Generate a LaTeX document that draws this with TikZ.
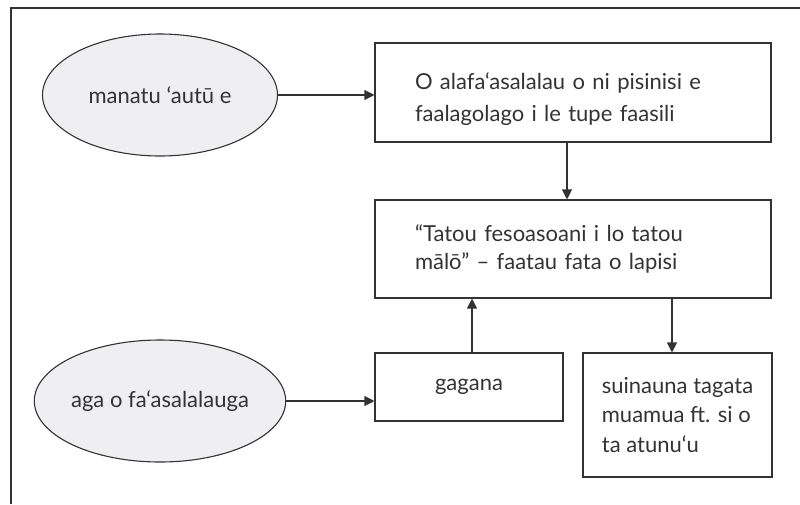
\documentclass[tikz,border=0pt]{standalone}
\usepackage{fontspec}
\setmainfont{Lato}
\usetikzlibrary{shapes.geometric,arrows.meta}
\definecolor{ln}{HTML}{333333}
\definecolor{efill}{HTML}{EFEFF1}
\begin{document}
\begin{tikzpicture}[x=1pt,y=-1pt,
  every node/.style={font=\fontsize{22}{32}\selectfont, text=ln},
  oval/.style={ellipse, draw=ln, line width=1.1pt, fill=efill, minimum width=235pt, minimum height=122pt, inner sep=0pt},
  boxnode/.style={rectangle, draw=ln, line width=1.1pt, inner sep=0pt},
  conn/.style={draw=ln, line width=1.1pt, -{Triangle[length=10pt,width=10pt]}}]
\useasboundingbox (0,0) rectangle (800,504);
\draw[ln, line width=1.2pt] (11,504) -- (11,8) -- (800,8);
\node[oval] (e1) at (160,95) {manatu ‘autū e};
\node[oval] (e2) at (160,401) {aga o fa‘asalalauga};
\node[boxnode, minimum width=396pt, minimum height=99pt, text width=316pt, align=left] (b1) at (573,92.5)
  {\rule{0pt}{31pt}O alafa‘asalalau o ni pisinisi e\\faalagolago i le tupe faasili};
\node[boxnode, minimum width=396pt, minimum height=98pt, text width=316pt, align=left,
  font=\fontsize{22}{28}\selectfont] (b2) at (573,249)
  {“Tatou fesoasoani i lo tatou\\mālō” – faatau fata o lapisi};
\node[boxnode, minimum width=188pt, minimum height=68pt] (g) at (469,387) {gagana};
\node[boxnode, minimum width=189pt, minimum height=124pt, align=left,
  font=\fontsize{22}{29.5}\selectfont] (s) at (677.5,415)
  {suinauna tagata\\muamua ft. si o\\ta atunu‘u};
\draw[conn] (e1.east) -- (e1.east -| b1.west);
\draw[conn] (e2.east) -- (e2.east -| g.west);
\draw[conn] ([xshift=-6pt]b1.south) -- ([xshift=-6pt]b1.south |- b2.north);
\draw[conn] ([xshift=3pt]g.north) -- ([xshift=3pt]g.north |- b2.south);
\draw[conn] ([xshift=-5.5pt]s.north |- b2.south) -- ([xshift=-5.5pt]s.north);
\end{tikzpicture}
\end{document}
